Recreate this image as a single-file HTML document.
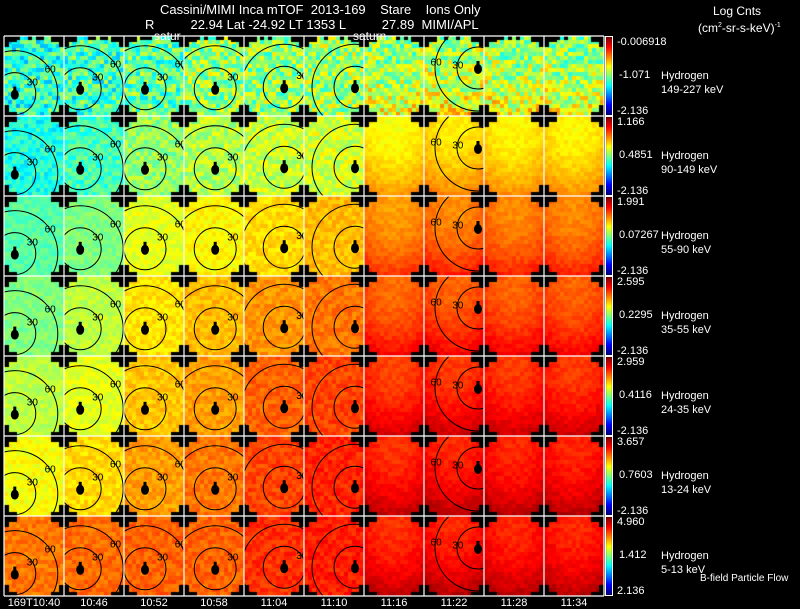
<!DOCTYPE html>
<html><head><meta charset="utf-8">
<style>
html,body{margin:0;padding:0;background:#000;}
#root{position:relative;width:800px;height:609px;background:#000;overflow:hidden;font-family:"Liberation Sans",sans-serif;color:#fff;}
.t{position:absolute;white-space:pre;font-size:12px;line-height:13px;}
canvas{position:absolute;left:0;top:0;}
svg{position:absolute;left:0;top:0;}
</style></head>
<body>
<div id="root">
<canvas id="cv" width="800" height="609"></canvas>
<svg id="ov" width="800" height="609"></svg>
<div class="t" style="left:160px;top:3px;font-size:13px">Cassini/MIMI Inca mTOF  2013-169    Stare    Ions Only</div>
<div class="t" style="left:145px;top:18px;font-size:13px">R          22.94 Lat -24.92 LT 1353 L          27.89  MIMI/APL</div>
<div class="t" style="left:713px;top:5px">Log Cnts</div>
<div class="t" style="left:698px;top:19px">(cm<sup style="font-size:7px">2</sup>-sr-s-keV)<sup style="font-size:7px">-1</sup></div>
<div class="t" style="left:154px;top:30px">satur</div>
<div class="t" style="left:353px;top:30px">saturn</div>
<div class="t" style="left:700px;top:572px;font-size:10px">B-field Particle Flow</div>
<div id="labels"></div>
</div>
<script>
// ---- data ----
const timeLabels = ["169T10:40","10:46","10:52","10:58","11:04","11:10","11:16","11:22","11:28","11:34"];
const species = ["Hydrogen","Hydrogen","Hydrogen","Hydrogen","Hydrogen","Hydrogen","Hydrogen"];
const energyLabels = ["149-227 keV","90-149 keV","55-90 keV","35-55 keV","24-35 keV","13-24 keV","5-13 keV"];
const cbTop = ["-0.006918","1.166","1.991","2.595","2.959","3.657","4.960"];
const cbMid = ["-1.071","0.4851","0.07267","0.2295","0.4116","0.7603","1.412"];
const cbBot = ["-2.136","-2.136","-2.136","-2.136","-2.136","-2.136","2.136"];
// panel mean level (0..1 in jet colour scale), rows = energy channel, cols = time
const level0 = [0.42,0.44,0.47,0.52,0.52,0.53,0.53,0.55,0.54,0.53];
const level1 = [0.40,0.44,0.52,0.55,0.57,0.58,0.64,0.66,0.65,0.65];
const level2 = [0.46,0.50,0.60,0.63,0.66,0.69,0.74,0.76,0.76,0.76];
const level3 = [0.50,0.56,0.65,0.69,0.73,0.76,0.79,0.80,0.80,0.80];
const level4 = [0.56,0.60,0.68,0.72,0.78,0.81,0.83,0.84,0.84,0.84];
const level5 = [0.62,0.66,0.72,0.76,0.81,0.84,0.85,0.86,0.86,0.86];
const level6 = [0.76,0.77,0.78,0.78,0.83,0.85,0.85,0.86,0.86,0.86];
const levels = [level0,level1,level2,level3,level4,level5,level6];
// Saturn position in panel (fraction of panel width/height); null = not in view
const saturnX = [0.18,0.27,0.35,0.52,0.67,0.85,null,0.90,null,null];
const saturnY = [0.72,0.66,0.66,0.66,0.64,0.64,null,0.40,null,null];

// ---- layout ----
const X0=4, PW=60, Y0=36, PH=80, NC=10, NR=7, GX=15, GY=20;
const xOf = c => X0 + c*PW;
const yOf = r => Y0 + r*PH;

function jet(v){
  v=Math.max(0,Math.min(1,v));
  const r=Math.max(0,Math.min(1,1.5-Math.abs(4*v-3)));
  const g=Math.max(0,Math.min(1,1.5-Math.abs(4*v-2)));
  const b=Math.max(0,Math.min(1,1.5-Math.abs(4*v-1)));
  return `rgb(${Math.round(r*255)},${Math.round(g*255)},${Math.round(b*255)})`;
}
function hash(a,b,c){let h=(a*374761393+b*668265263+c*2147483647)>>>0;h=(h^(h>>>13))*1274126177>>>0;return ((h^(h>>>16))>>>0)/4294967295;}

const ctx=document.getElementById('cv').getContext('2d');
const cw=PW/GX, ch=PH/GY;
for(let r=0;r<NR;r++)for(let c=0;c<NC;c++){
  const base=levels[r][c];
  let noiseAmp = r===0?0.13:(r===1?0.07:0.035);
  if(c>=6 && r>=1) noiseAmp=0.022;
  for(let j=0;j<GY;j++)for(let i=0;i<GX;i++){
    let v=base + (hash(r*10+c,i,j)-0.5)*2*noiseAmp;
    if(c>=6){ const dx=(i-7)/7, dy=(j-6)/10; v+= 0.035*(dx*dx+dy*dy) - 0.035 + 0.06*(j/GY); }
    if(r===0 && j===0 && hash(c,i,99)<0.35) { ctx.fillStyle='#000'; }
    else ctx.fillStyle=jet(v);
    ctx.fillRect(Math.floor(xOf(c)+i*cw),Math.floor(yOf(r)+j*ch),Math.ceil(cw),Math.ceil(ch));
  }
}
// black crosses at grid intersections
ctx.fillStyle='#000';
for(let r=0;r<=NR;r++)for(let c=0;c<=NC;c++){
  const x=xOf(c), y=yOf(r);
  ctx.fillRect(x-13,y-4,26,10);
  ctx.fillRect(x-5,y-11,10,22);
}
ctx.fillStyle='#000';ctx.fillRect(0,Y0+NR*PH+1,800,20);ctx.fillRect(0,0,800,Y0-1);
// colorbars
for(let r=0;r<NR;r++){
  const y=yOf(r)+1;
  for(let k=0;k<PH-2;k++){ctx.fillStyle=jet(1-k/(PH-3));ctx.fillRect(606,y+k,6,1);}
}

const svg=document.getElementById('ov');
const NS='http://www.w3.org/2000/svg';
function mk(tag,attrs){const e=document.createElementNS(NS,tag);for(const k in attrs)e.setAttribute(k,attrs[k]);svg.appendChild(e);return e;}
const defs=mk('defs',{});
for(let r=0;r<NR;r++)for(let c=0;c<NC;c++){
  if(saturnX[c]===null) continue;
  const cp=document.createElementNS(NS,'clipPath');cp.setAttribute('id',`cp${r}_${c}`);
  const rc=document.createElementNS(NS,'rect');rc.setAttribute('x',xOf(c));rc.setAttribute('y',yOf(r));rc.setAttribute('width',PW);rc.setAttribute('height',PH);
  cp.appendChild(rc);defs.appendChild(cp);
  const g=mk('g',{'clip-path':`url(#cp${r}_${c})`});
  
  
  const sx=xOf(c)+saturnX[c]*PW, sy=yOf(r)+saturnY[c]*PH;
  [21,43].forEach((rad,k)=>{
    const ci=document.createElementNS(NS,'circle');
    ci.setAttribute('cx',sx);ci.setAttribute('cy',sy);ci.setAttribute('r',rad);
    ci.setAttribute('fill','none');ci.setAttribute('stroke','#000');ci.setAttribute('stroke-width','1');
    g.appendChild(ci);
    const tx=document.createElementNS(NS,'text');
    const ang = c>=6 ? Math.PI*1.05 : -Math.PI*0.2;
    tx.setAttribute('x',sx+rad*Math.cos(ang)-5);tx.setAttribute('y',sy+rad*Math.sin(ang)+4);
    tx.setAttribute('font-family','Liberation Sans, sans-serif');tx.setAttribute('font-size','10');tx.setAttribute('fill','#000');
    tx.textContent = k===0?'30':'60';
    g.appendChild(tx);
  });
  const body=document.createElementNS(NS,'ellipse');
  body.setAttribute('cx',sx);body.setAttribute('cy',sy+1);body.setAttribute('rx',4);body.setAttribute('ry',5);body.setAttribute('fill','#000');
  g.appendChild(body);
  const knob=document.createElementNS(NS,'rect');
  knob.setAttribute('x',sx-1.5);knob.setAttribute('y',sy-7);knob.setAttribute('width',3);knob.setAttribute('height',4);knob.setAttribute('fill','#000');
  g.appendChild(knob);
  svg.appendChild(g);
}
for(let c=0;c<=NC;c++){const l=mk('line',{x1:xOf(c),x2:xOf(c),y1:Y0,y2:Y0+NR*PH,stroke:'#fff','stroke-width':1.2});}
for(let r=0;r<=NR;r++){const l=mk('line',{x1:X0,x2:X0+NC*PW,y1:yOf(r),y2:yOf(r),stroke:'#fff','stroke-width':1.2});}
for(let r=0;r<NR;r++){const b=mk('rect',{x:605.5,y:yOf(r)+0.5,width:7,height:PH-1,fill:'none',stroke:'#fff','stroke-width':1});}

const L=document.getElementById('labels');
function lab(txt,x,y,name,extra){const d=document.createElement('div');d.className='t';d.style.left=x+'px';d.style.top=y+'px';if(extra)d.style.cssText+=extra;d.textContent=txt;
  
  
  L.appendChild(d);return d;}
timeLabels.forEach((t,c)=>{lab(t,xOf(c)+PW/2-40,597,'time-tick-label','width:80px;text-align:center;font-size:11px');});
for(let r=0;r<NR;r++){
  const y=yOf(r);
  lab(cbTop[r],617,y+1,'colorbar-max-label','font-size:11px;line-height:11px');
  lab(cbMid[r],619,y+34,'colorbar-mid-label','font-size:11px;line-height:11px');
  lab(cbBot[r],617,y+70,'colorbar-min-label','font-size:11px;line-height:11px');
  lab(species[r],661,y+34,'species-label','font-size:11px');
  lab(energyLabels[r],661,y+48,'energy-range-label','font-size:11px');
}
</script>
</body></html>
